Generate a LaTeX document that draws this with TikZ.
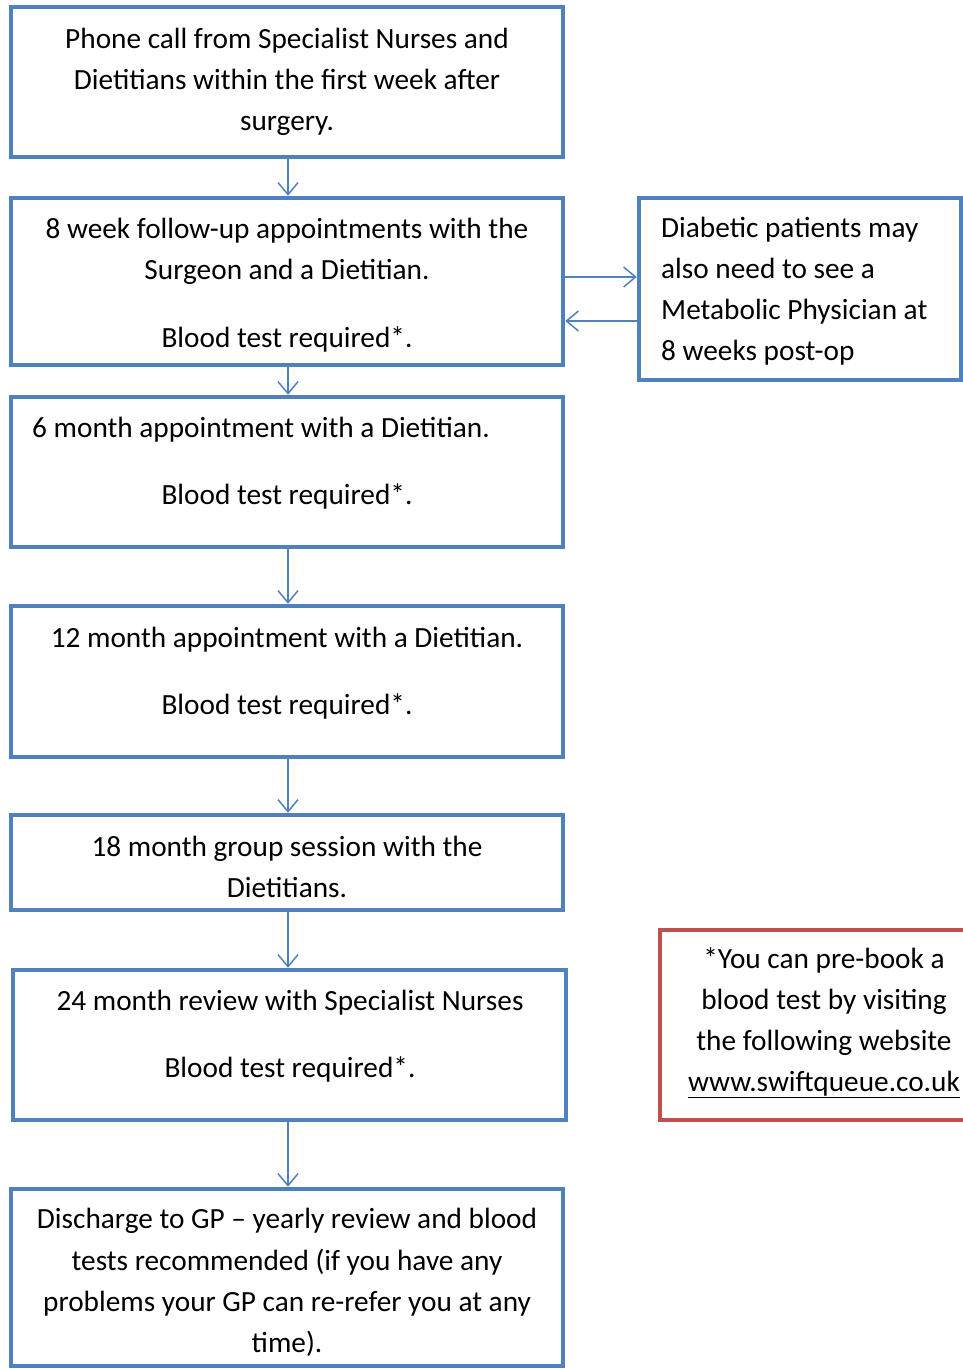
\documentclass[tikz,border=0pt]{standalone}
\usepackage{fontspec}
\setmainfont{Carlito}
\usetikzlibrary{arrows.meta}
\definecolor{boxblue}{HTML}{4F81BD}
\definecolor{boxred}{HTML}{C0504D}
\begin{document}
\begin{tikzpicture}[x=1pt,y=-1pt,
  box/.style={draw=boxblue, line width=4.5pt, rectangle, inner sep=0pt},
  redbox/.style={draw=boxred, line width=4.5pt, rectangle, inner sep=0pt},
  txt/.style={anchor=base, inner sep=0pt, font=\fontsize{29.3}{41}\selectfont},
  ltxt/.style={txt, anchor=base west},
  flow/.style={draw=boxblue, line width=1.5pt, -{Straight Barb[length=12pt,width=20pt]}}]
\useasboundingbox (0,0) rectangle (963,1370);
\clip (0,0) rectangle (963,1370);
% boxes
\node[box, minimum width=552pt, minimum height=150pt] (b1) at (287,82) {};
\node[box, minimum width=552pt, minimum height=167pt] (b2) at (287,281.5) {};
\node[box, minimum width=322pt, minimum height=182pt] (r) at (800,289) {};
\node[box, minimum width=552pt, minimum height=150pt] (b3) at (287,472) {};
\node[box, minimum width=552pt, minimum height=151pt] (b4) at (287,681.5) {};
\node[box, minimum width=552pt, minimum height=95pt] (b5) at (287,862.5) {};
\node[box, minimum width=553pt, minimum height=150pt] (b6) at (289.5,1045) {};
\node[box, minimum width=552pt, minimum height=177pt] (b7) at (287,1277.5) {};
\node[redbox, minimum width=306pt, minimum height=190pt] (rb) at (813,1025) {};
% texts
\node[txt] (t11) at (287,48.5) {Phone call from Specialist Nurses and};
\node[txt] (t12) at (287,89.5) {Dietitians within the first week after};
\node[txt] (t13) at (287,130.5) {surgery.};
\node[txt] (t21) at (287,238.5) {8 week follow-up appointments with the};
\node[txt] (t22) at (287,279.5) {Surgeon and a Dietitian.};
\node[txt] (t23) at (287,347.5) {Blood test required*.};
\node[ltxt] (r1) at (661,237.5) {Diabetic patients may};
\node[ltxt] (r2) at (661,278.5) {also need to see a};
\node[ltxt] (r3) at (661,319.5) {Metabolic Physician at};
\node[ltxt] (r4) at (661,360.5) {8 weeks post-op};
\node[ltxt] (t31) at (32,437.5) {6 month appointment with a Dietitian.};
\node[txt] (t32) at (287,504.5) {Blood test required*.};
\node[txt] (t41) at (287,647.5) {12 month appointment with a Dietitian.};
\node[txt] (t42) at (287,714.5) {Blood test required*.};
\node[txt] (t51) at (287,856.5) {18 month group session with the};
\node[txt] (t52) at (287,897.5) {Dietitians.};
\node[txt] (t61) at (290,1010.5) {24 month review with Specialist Nurses};
\node[txt] (t62) at (290,1077.5) {Blood test required*.};
\node[txt] (t71) at (287,1228.5) {Discharge to GP – yearly review and blood};
\node[txt] (t72) at (287,1270) {tests recommended (if you have any};
\node[txt] (t73) at (287,1311.5) {problems your GP can re-refer you at any};
\node[txt] (t74) at (287,1352.5) {time).};
\node[txt] (s1) at (824,968.5) {*You can pre-book a};
\node[txt] (s2) at (824,1009.5) {blood test by visiting};
\node[txt] (s3) at (824,1050.5) {the following website};
\node[txt] (s4) at (824,1091.5) {www.swiftqueue.co.uk};
\draw[line width=1.6pt] ([yshift=-6pt]s4.base west) -- ([yshift=-6pt]s4.base east);
% connectors
\draw[flow] ([xshift=1pt]b1.south) -- ([xshift=1pt]b2.north);
\draw[flow] ([xshift=1pt]b2.south) -- ([xshift=1pt]b3.north);
\draw[flow] ([xshift=1pt]b3.south) -- ([xshift=1pt]b4.north);
\draw[flow] ([xshift=1pt]b4.south) -- ([xshift=1pt]b5.north);
\draw[flow] ([xshift=1pt]b5.south) -- ([xshift=1pt]b5.south |- b6.north);
\draw[flow] ([xshift=1pt]b6.south -| b7.north) -- ([xshift=1pt]b7.north);
\draw[flow] ([yshift=4.5pt]b2.east) -- ([yshift=4.5pt]b2.east -| r.west);
\draw[flow] ([yshift=-39.5pt]b2.east -| r.west) -- ([yshift=-39.5pt]b2.east);
\end{tikzpicture}
\end{document}
